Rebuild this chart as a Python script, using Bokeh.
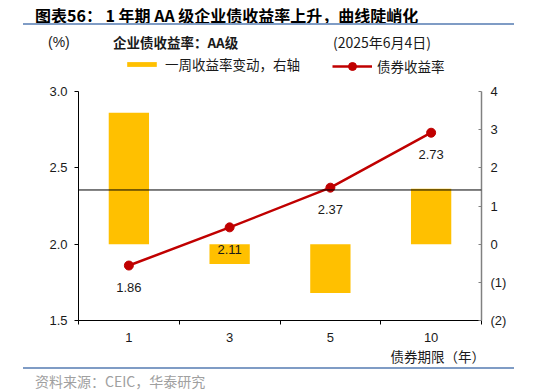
from bokeh.plotting import figure
from bokeh.layouts import column
from bokeh.models import (Range1d, LinearAxis, FixedTicker, ColumnDataSource, LabelSet,
                          Span, Legend, LegendItem, Div)
from bokeh.core.properties import value
from bokeh.embed import file_html
from bokeh.resources import INLINE

# ---- data ----
tenors = ["1", "3", "5", "10"]
yields = [1.86, 2.11, 2.37, 2.73]
weekly_change = [3.44, -0.52, -1.28, 1.45]
left_ticks = [1.5, 2.0, 2.5, 3.0]
right_ticks = [-2, -1, 0, 1, 2, 3, 4]
right_tick_labels = ["(2)", "(1)", "0", "1", "2", "3", "4"]
ref_level = 2.355

title_text = "图表56： 1 年期 AA 级企业债收益率上升，曲线陡峭化"
unit_text = "(%)"
sub_text = "企业债收益率：AA级"
date_text = "(2025年6月4日)"
bar_name = "一周收益率变动，右轴"
line_name = "债券收益率"
xlabel_text = "债券期限（年）"
source_text = "资料来源：CEIC，华泰研究"

LAT = "Liberation Sans"
CJK = "Noto Sans CJK SC"
YELLOW = "#FFC000"
RED = "#C00000"
RULE = "#7f9cc5"
TXT = "#1a1a1a"

W = 522
FL, FR = 78, 481
HEAD_H = 55          # page y 0..55
LEG_H = 26           # page y 55..81
TOP_PAD, FRAME_H, BOT_PAD = 10, 229, 26   # page y 81..346
FOOT_H = 44          # page y 346..390


def span_html(s, left=None, right=None, top=0, size=14, lh=20, font=CJK, weight="normal", color=TXT):
    pos = f"left:{left}px;" if left is not None else f"right:{right}px;"
    return (f'<div style="position:absolute;{pos}top:{top}px;font-size:{size}px;'
            f'line-height:{lh}px;font-family:\'{font}\';font-weight:{weight};color:{color};'
            f'white-space:nowrap;">{s}</div>')


def rule_html(top):
    return (f'<div style="position:absolute;left:23px;top:{top}px;width:491px;height:1.5px;'
            f'background-color:{RULE};"></div>')


# ---------- header (title, rule, sub-heading row) ----------
head_html = (f'<div style="position:relative;width:{W}px;height:{HEAD_H}px;">'
             + span_html(title_text, left=35, top=5, size=16, weight="bold", color="black")
             + rule_html(23)
             + span_html(unit_text, left=48, top=32, size=14, font=LAT)
             + span_html(sub_text, left=113, top=32, size=13.5, weight="bold")
             + span_html(date_text, left=333, top=32, size=14)
             + '</div>')
head = Div(text=head_html, width=W, height=HEAD_H, margin=0)

# ---------- legend strip ----------
legf = figure(frame_width=FR - FL, frame_height=LEG_H, min_border_left=FL,
              min_border_right=W - FR, min_border_top=0, min_border_bottom=0,
              x_range=Range1d(0, 1), y_range=Range1d(0, 1),
              x_axis_type=None, y_axis_type=None,
              output_backend="svg", toolbar_location=None)
legf.xgrid.visible = False
legf.ygrid.visible = False
legf.outline_line_color = None
legf.border_fill_color = "white"
# off-screen proxies that carry the series styles for the legend swatches
lg_bar = legf.vbar(x=[-5], top=[-5], bottom=[-6], width=1, fill_color=YELLOW, line_color=None)
lg_line = legf.line(x=[-6, -5], y=[-5, -5], line_color=RED, line_width=2.5)
lg_dot = legf.scatter(x=[-5], y=[-5], fill_color=RED, line_color=RED)
leg1 = Legend(items=[LegendItem(label=bar_name, renderers=[lg_bar])],
              orientation="horizontal", location=(123 - FL, 7),
              border_line_color=None, background_fill_alpha=0, padding=0, margin=0,
              label_standoff=5, glyph_width=37, glyph_height=6, label_height=14,
              label_text_font=CJK, label_text_font_size="13.5px", label_text_color=TXT)
leg2 = Legend(items=[LegendItem(label=line_name, renderers=[lg_line, lg_dot])],
              orientation="horizontal", location=(332 - FL, 5),
              border_line_color=None, background_fill_alpha=0, padding=0, margin=0,
              label_standoff=5, glyph_width=40, glyph_height=20, label_height=20,
              label_text_font=CJK, label_text_font_size="13.5px", label_text_color=TXT)
legf.add_layout(leg1, "center")
legf.add_layout(leg2, "center")

# ---------- main chart ----------
xs = [i + 0.5 for i in range(len(tenors))]
src = ColumnDataSource(dict(x=xs, y=yields, chg=weekly_change,
                            lab=[f"{v:.2f}" for v in yields]))

p = figure(frame_width=FR - FL, frame_height=FRAME_H,
           min_border_left=FL, min_border_right=W - FR,
           min_border_top=TOP_PAD, min_border_bottom=BOT_PAD,
           x_range=Range1d(0, 4), y_range=Range1d(1.5, 3.0),
           output_backend="svg", toolbar_location=None)
p.extra_y_ranges = {"right": Range1d(-2, 4)}
p.xgrid.visible = False
p.ygrid.visible = False
p.outline_line_color = None
p.background_fill_color = "white"
p.border_fill_color = "white"

p.vbar(x="x", top="chg", bottom=0, width=0.4, source=src,
       fill_color=YELLOW, line_color=None, y_range_name="right")
p.add_layout(Span(location=ref_level, dimension="width", line_color="black", line_width=1))
p.line("x", "y", source=src, line_color=RED, line_width=2.5)
p.scatter("x", "y", source=src, size=9, fill_color=RED, line_color=RED)
p.add_layout(LabelSet(x="x", y="y", text="lab", source=src, y_offset=-22,
                      text_align="center", text_baseline="middle",
                      text_font=value(LAT), text_font_size="13px", text_color=TXT))

ax = p.xaxis[0]
ax.ticker = FixedTicker(ticks=xs, minor_ticks=[0, 1, 2, 3, 4])
ax.major_label_overrides = {x: t for x, t in zip(xs, tenors)}
ax.major_tick_out = 0
ax.major_tick_in = 0
ax.minor_tick_out = 4
ax.minor_tick_in = 0
ax.axis_line_color = "black"
ax.minor_tick_line_color = "black"
ax.major_label_standoff = 8
ax.major_label_text_font = LAT
ax.major_label_text_font_size = "13px"
ax.major_label_text_color = TXT

ay = p.yaxis[0]
ay.ticker = FixedTicker(ticks=left_ticks)
ay.major_label_overrides = {v: f"{v:.1f}" for v in left_ticks}
ay.major_tick_out = 4
ay.major_tick_in = 0
ay.minor_tick_line_color = None
ay.axis_line_color = "black"
ay.major_tick_line_color = "black"
ay.major_label_standoff = 7
ay.major_label_text_font = LAT
ay.major_label_text_font_size = "13px"
ay.major_label_text_color = TXT

ry = LinearAxis(y_range_name="right", ticker=FixedTicker(ticks=right_ticks))
ry.major_label_overrides = {v: t for v, t in zip(right_ticks, right_tick_labels)}
ry.major_tick_out = 0
ry.major_tick_in = 3
ry.minor_tick_line_color = None
ry.axis_line_color = "#808080"
ry.axis_line_width = 1.5
ry.major_tick_line_color = "#808080"
ry.major_label_standoff = 9
ry.major_label_text_font = LAT
ry.major_label_text_font_size = "13px"
ry.major_label_text_color = TXT
p.add_layout(ry, "right")

# ---------- footer (axis title, rule, source) ----------
foot_html = (f'<div style="position:relative;width:{W}px;height:{FOOT_H}px;">'
             + span_html(xlabel_text, right=W - 485, top=2, size=13.5, lh=16)
             + rule_html(21)
             + span_html(source_text, left=35, top=27, size=14, lh=16, color="#a0a0a0")
             + '</div>')
foot = Div(text=foot_html, width=W, height=FOOT_H, margin=0)

layout = column(head, legf, p, foot, spacing=0)
open("out.html", "w").write(file_html(layout, INLINE))
